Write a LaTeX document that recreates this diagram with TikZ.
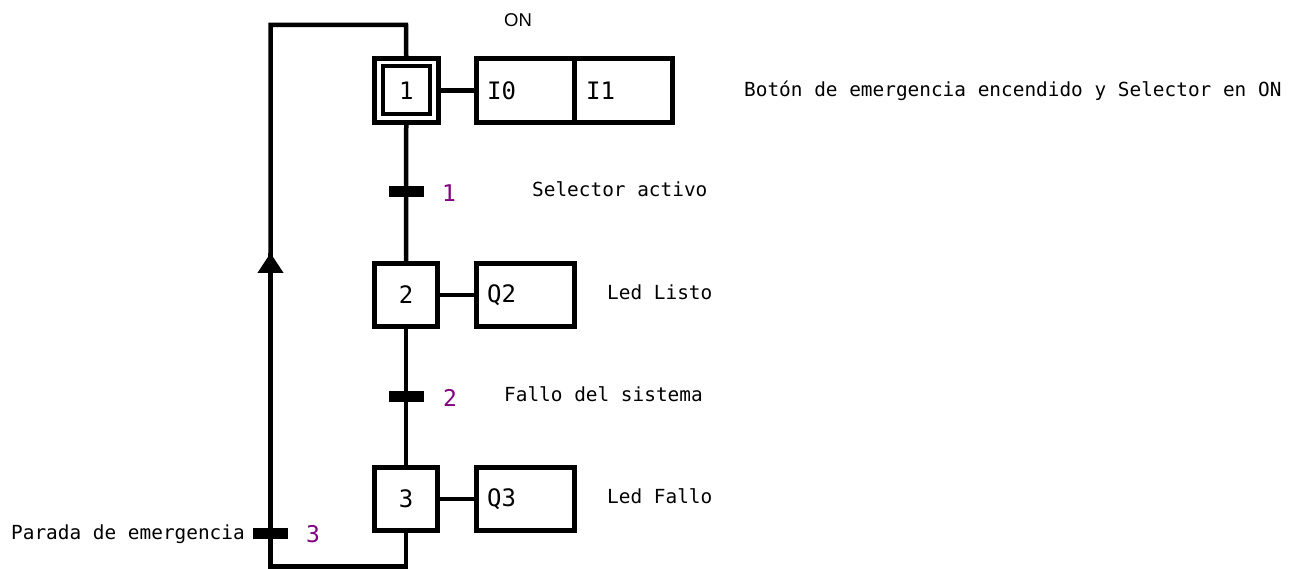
\documentclass[tikz,border=0pt]{standalone}
\usepackage{fontspec}
\usetikzlibrary{arrows.meta}
\newfontfamily\monofam{DejaVu Sans Mono}
\newfontfamily\sansfam{Liberation Sans}
\definecolor{trnum}{RGB}{128,0,128}
\tikzset{
  wire/.style={line width=4.5pt},
  stepbox/.style={draw, line width=5pt, rectangle, inner sep=0pt, minimum width=63pt, minimum height=63pt,
    font=\monofam\fontsize{24}{24}\selectfont},
  actbox/.style={draw, line width=5pt, rectangle, inner sep=0pt},
  actlabel/.style={anchor=west, inner sep=0pt, font=\monofam\fontsize{24}{24}\selectfont},
  trbar/.style={fill=black, rectangle, inner sep=0pt, minimum width=35pt, minimum height=11pt},
  trnumber/.style={anchor=base, inner sep=0pt, text=trnum, font=\monofam\fontsize{23}{23}\selectfont},
  note/.style={anchor=base west, inner sep=0pt, font=\monofam\fontsize{19.4}{22}\selectfont},
}
\begin{document}
\begin{tikzpicture}[x=1pt, y=-1pt]
\useasboundingbox (0,0) rectangle (1298,569);

% steps
\node[stepbox, minimum width=63.5pt, minimum height=64pt] (s1) at (406.25,90.5) {};
\node[stepbox, line width=4pt, minimum width=47.5pt, minimum height=48pt] (s1i) at (406.25,90.5) {1};
\node[stepbox] (s2) at (406,295) {2};
\node[stepbox] (s3) at (406,499) {3};

% actions
\node[actbox, minimum width=196pt, minimum height=64pt] (a1) at (574.5,90.5) {};
\node[actbox, minimum width=98pt, minimum height=63pt] (a2) at (525.5,295) {};
\node[actbox, minimum width=98pt, minimum height=63pt] (a3) at (525.5,499) {};
\draw[line width=5pt] (a1.north) -- (a1.south);
\node[actlabel] (i0) at (487,91) {I0};
\node[actlabel] (i1) at (586,91) {I1};
\node[actlabel] (q2) at (487,295) {Q2};
\node[actlabel] (q3) at (487,499) {Q3};

% loop corners and arrow point
\coordinate (tl) at (270.5,25);
\coordinate (tr) at (406,25);
\coordinate (bl) at (270.5,566.5);
\coordinate (br) at (406,566.5);
\coordinate (up) at (270.5,253);

% links
\draw[wire] (s1.east) -- (a1.west);
\draw[wire] (s2.east) -- (a2.west);
\draw[wire] (s3.east) -- (a3.west);
\draw[wire] (s1.south) -- (s2.north);
\draw[wire] (s2.south) -- (s3.north);
\draw[wire, line join=miter] (s3.south) -- (br) -- (bl) -- (up);
\draw[wire, -{Triangle[width=25pt,length=20pt]}] (bl) -- (up);
\draw[wire, line join=miter] (up) -- (tl) -- (tr) -- (s1.north);

% transitions
\node[trbar] (t1) at (406,192) {};
\node[trbar] (t2) at (406,396) {};
\node[trbar] (t3) at (270.5,533.5) {};
\node[trnumber] (n1) at (449,202) {1};
\node[trnumber] (n2) at (450,406) {2};
\node[trnumber] (n3) at (313,542) {3};

% descriptions
\node[anchor=base west, inner sep=0pt, font=\sansfam\fontsize{18.5}{18.5}\selectfont] (on) at (504,27) {ON};
\node[note] (d1) at (744,97) {Botón de emergencia encendido y Selector en ON};
\node[note] (d2) at (532,197) {Selector activo};
\node[note] (d3) at (607,300) {Led Listo};
\node[note] (d4) at (504,401) {Fallo del sistema};
\node[note] (d5) at (607,503) {Led Fallo};
\node[note] (d6) at (11,539) {Parada de emergencia};
\end{tikzpicture}
\end{document}
